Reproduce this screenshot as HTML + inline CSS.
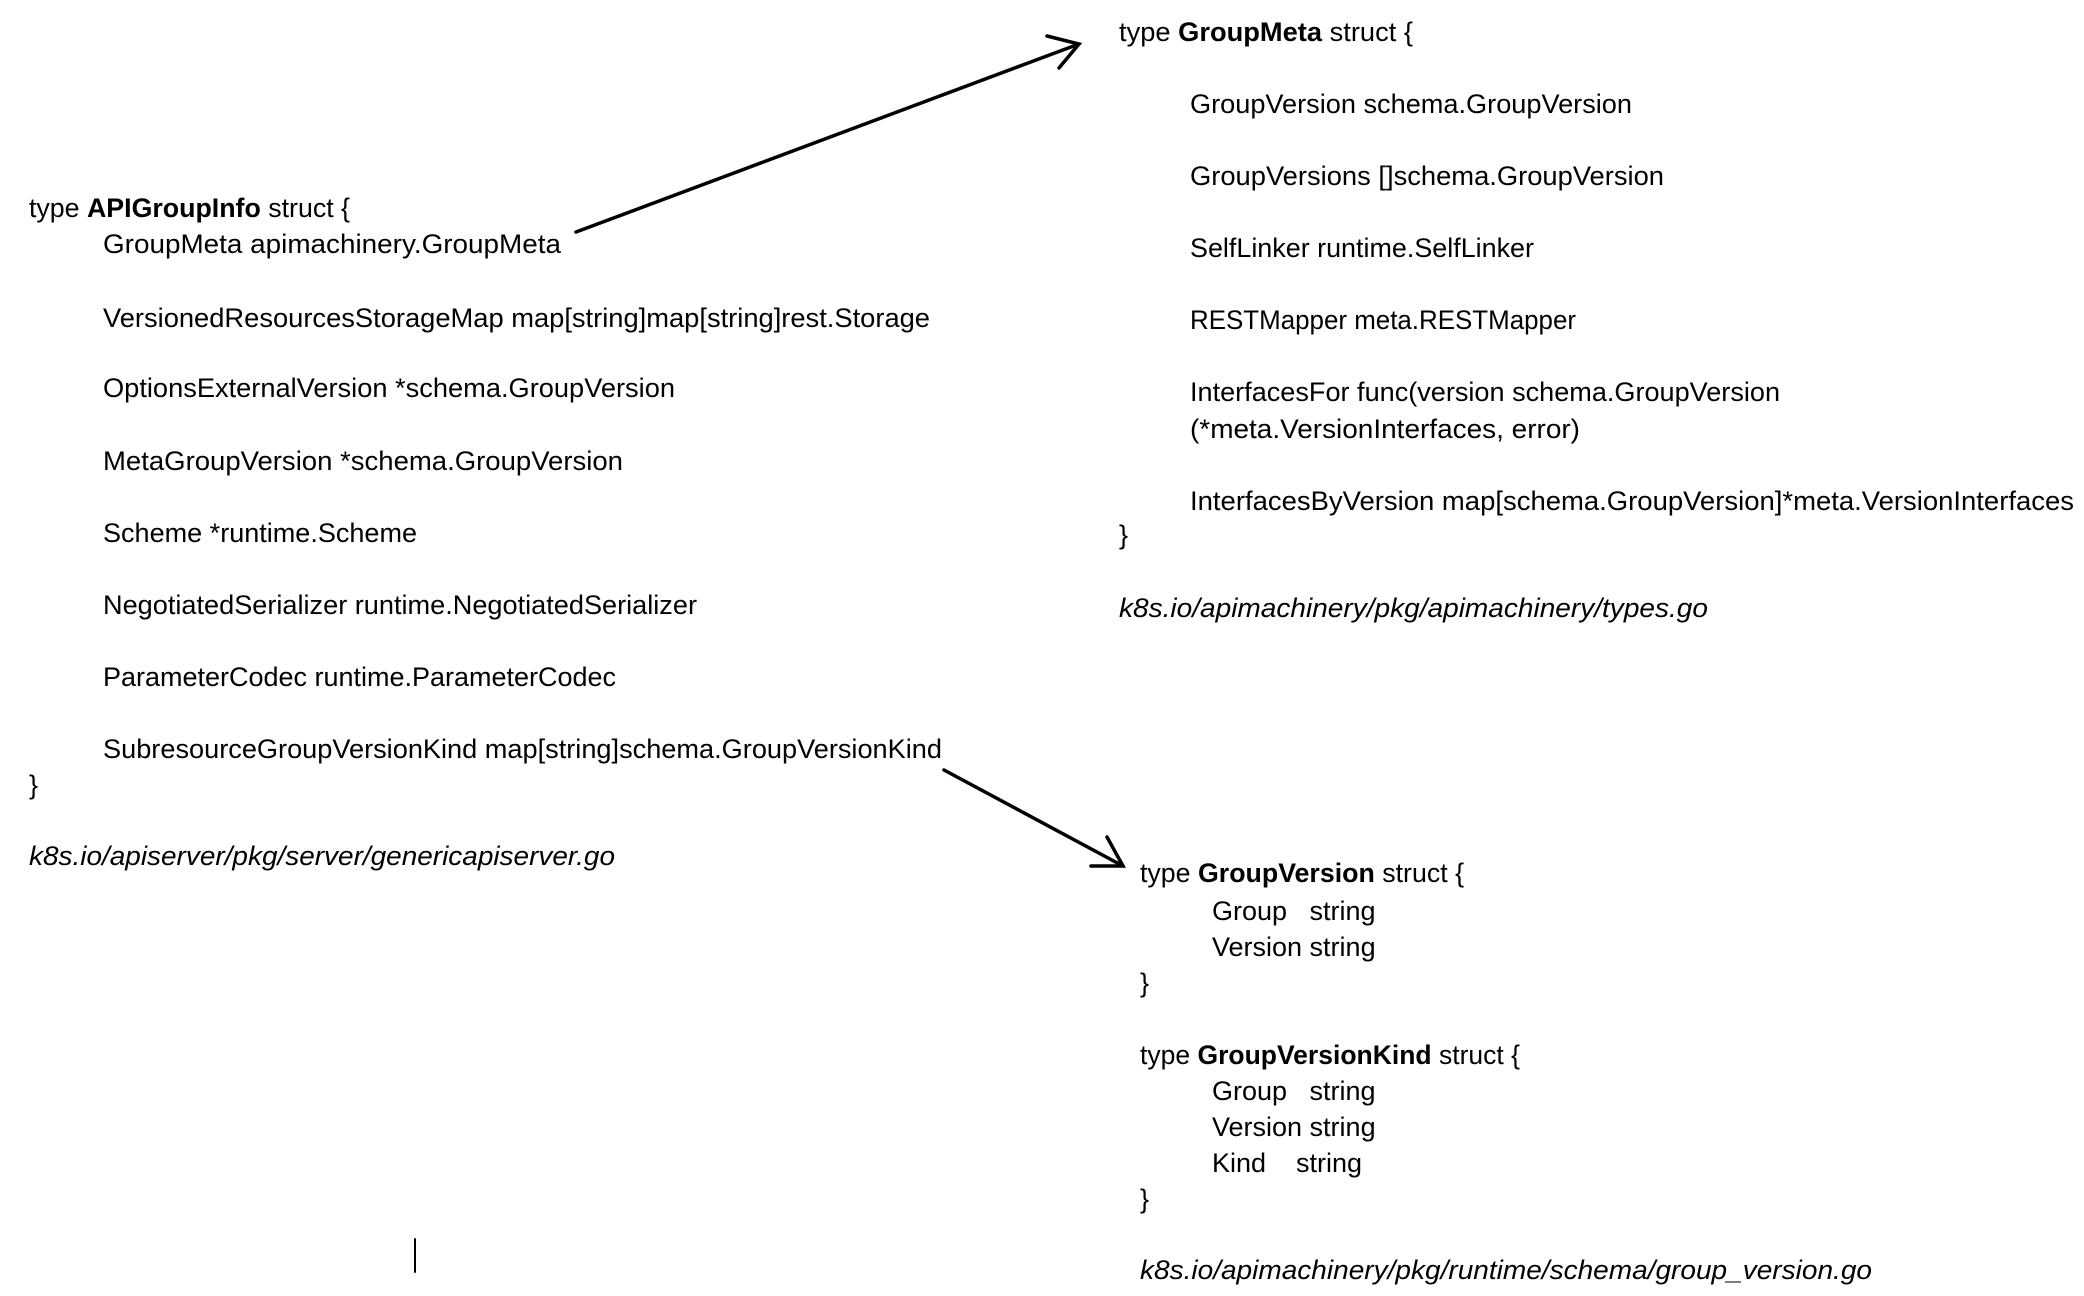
<!DOCTYPE html>
<html><head><meta charset="utf-8"><style>
html,body{margin:0;padding:0;background:#fff;}
svg{display:block;}
text{font-family:"Liberation Sans",sans-serif;font-size:27px;fill:#000;}
.b{font-weight:bold;}
.i{font-style:italic;}
</style></head><body>
<svg width="2084" height="1296" viewBox="0 0 2084 1296" xmlns="http://www.w3.org/2000/svg">
<g transform="translate(-6,-4)">
<g transform="translate(6,0)">
<text x="29" y="221" textLength="321" lengthAdjust="spacingAndGlyphs">type <tspan class="b">APIGroupInfo</tspan> struct {</text>
<text x="103" y="257" textLength="458" lengthAdjust="spacingAndGlyphs">GroupMeta apimachinery.GroupMeta</text>
<text x="103" y="331" textLength="827" lengthAdjust="spacingAndGlyphs">VersionedResourcesStorageMap map[string]map[string]rest.Storage</text>
<text x="103" y="401" textLength="572" lengthAdjust="spacingAndGlyphs">OptionsExternalVersion *schema.GroupVersion</text>
<text x="103" y="474" textLength="520" lengthAdjust="spacingAndGlyphs">MetaGroupVersion *schema.GroupVersion</text>
<text x="103" y="546" textLength="314" lengthAdjust="spacingAndGlyphs">Scheme *runtime.Scheme</text>
<text x="103" y="618" textLength="594" lengthAdjust="spacingAndGlyphs">NegotiatedSerializer runtime.NegotiatedSerializer</text>
<text x="103" y="690" textLength="513" lengthAdjust="spacingAndGlyphs">ParameterCodec runtime.ParameterCodec</text>
<text x="103" y="762" textLength="839" lengthAdjust="spacingAndGlyphs">SubresourceGroupVersionKind map[string]schema.GroupVersionKind</text>
<text x="29" y="798">}</text>
<text class="i" x="29" y="869" textLength="586" lengthAdjust="spacingAndGlyphs">k8s.io/apiserver/pkg/server/genericapiserver.go</text>
</g>

<text x="1125" y="45" textLength="294" lengthAdjust="spacingAndGlyphs">type <tspan class="b">GroupMeta</tspan> struct {</text>
<text x="1196" y="117" textLength="442" lengthAdjust="spacingAndGlyphs">GroupVersion schema.GroupVersion</text>
<text x="1196" y="189" textLength="474" lengthAdjust="spacingAndGlyphs">GroupVersions []schema.GroupVersion</text>
<text x="1196" y="261" textLength="344" lengthAdjust="spacingAndGlyphs">SelfLinker runtime.SelfLinker</text>
<text x="1196" y="333" textLength="386" lengthAdjust="spacingAndGlyphs">RESTMapper meta.RESTMapper</text>
<text x="1196" y="405" textLength="590" lengthAdjust="spacingAndGlyphs">InterfacesFor func(version schema.GroupVersion</text>
<text x="1196" y="442" textLength="390" lengthAdjust="spacingAndGlyphs">(*meta.VersionInterfaces, error)</text>
<text x="1196" y="514" textLength="884" lengthAdjust="spacingAndGlyphs">InterfacesByVersion map[schema.GroupVersion]*meta.VersionInterfaces</text>
<text x="1125" y="548">}</text>
<text class="i" x="1125" y="621" textLength="589" lengthAdjust="spacingAndGlyphs">k8s.io/apimachinery/pkg/apimachinery/types.go</text>

<text x="1146" y="886" textLength="324" lengthAdjust="spacingAndGlyphs">type <tspan class="b">GroupVersion</tspan> struct {</text>
<text x="1218" y="924" xml:space="preserve">Group   string</text>
<text x="1218" y="960">Version string</text>
<text x="1146" y="996">}</text>
<text x="1146" y="1068" textLength="380" lengthAdjust="spacingAndGlyphs">type <tspan class="b">GroupVersionKind</tspan> struct {</text>
<text x="1218" y="1104" xml:space="preserve">Group   string</text>
<text x="1218" y="1140">Version string</text>
<text x="1218" y="1176" xml:space="preserve">Kind    string</text>
<text x="1146" y="1212">}</text>
<text class="i" x="1146" y="1283" textLength="732" lengthAdjust="spacingAndGlyphs">k8s.io/apimachinery/pkg/runtime/schema/group_version.go</text>
<g stroke="#000" stroke-width="3.5" fill="none" stroke-linecap="round">
<line x1="582" y1="236" x2="1085" y2="48"/>
<polyline points="1053,40 1085,48 1065,72"/>
<line x1="950" y1="774" x2="1129" y2="870"/>
<polyline points="1113,841 1129,870 1097,870"/>
<line x1="421" y1="1243" x2="421" y2="1276" stroke-width="2"/>
</g>
</g>
</svg>
</body></html>
